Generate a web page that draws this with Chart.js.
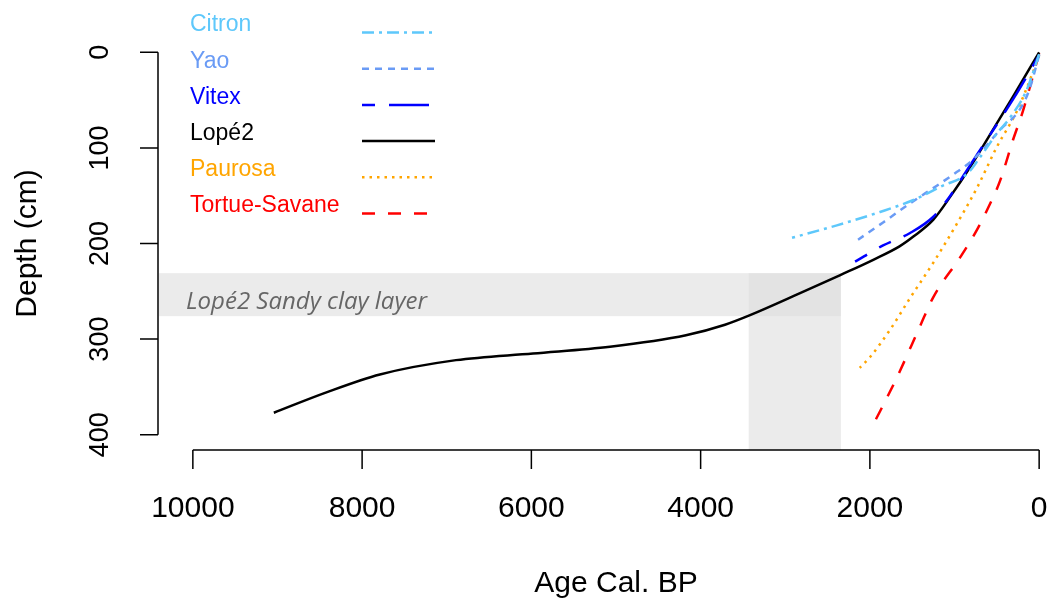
<!DOCTYPE html>
<html lang="en">
<head>
<meta charset="UTF-8">
<title>Age-depth models</title>
<script src="https://cdn.jsdelivr.net/npm/chart.js"></script>
<style>
    body { margin: 0; overflow: hidden; background: #fff; }
    #wrap { width: 1090px; height: 601px; }
</style>
</head>
<body>
<div id="wrap"><canvas id="ageChart" width="1090" height="601"></canvas></div>
<script>
// age (cal. BP) and depth (cm) per core
const lopeAge = [0, 300, 600, 815, 1050, 1250, 1490, 1650, 1960, 2350, 2825, 3416, 3712, 4173, 5071, 5981, 6891, 7790, 8430, 9043];
const lopeDepth = [0, 45, 89, 120, 151, 175, 193, 203, 217, 233, 252, 275, 285, 296, 308, 315, 322, 337, 356, 377];
const vitexAge = [0, 300, 600, 815, 1050, 1250, 1525, 1844, 2175];
const vitexDepth = [3, 48, 89, 118, 150, 172, 189, 202, 219];
const yaoAge = [0, 120, 230, 460, 700, 815, 970, 1200, 1525, 1844, 2140];
const yaoDepth = [3, 40, 60, 81, 105, 115, 125, 139, 158, 178, 196];
const citronAge = [0, 150, 340, 500, 700, 850, 1150, 1500, 1880, 2390, 2920];
const citronDepth = [2, 40, 68, 85, 110, 127, 140, 155, 167, 181, 194];
const paurosaAge = [0, 70, 260, 500, 730, 970, 1250, 1525, 1760, 2000, 2120];
const paurosaDepth = [3, 20, 61, 99, 141, 179, 220, 257, 290, 319, 330];
const tortueAge = [0, 190, 310, 460, 615, 730, 930, 1250, 1410, 1680, 1975];
const tortueDepth = [1, 61, 92, 134, 165, 185, 214, 256, 287, 340, 392];

// shaded sandy clay layer
const bandAge = [3432, 2343];
const bandDepth = [231, 276];

const xTicks = [10000, 8000, 6000, 4000, 2000, 0];
const yTicks = [0, 100, 200, 300, 400];

const series = [
    { name: 'Citron', age: citronAge, depth: citronDepth, color: '#5ec8fb', dash: [12, 5, 3, 5], order: 1 },
    { name: 'Yao', age: yaoAge, depth: yaoDepth, color: '#6a9bf5', dash: [7, 6], order: 2 },
    { name: 'Vitex', age: vitexAge, depth: vitexDepth, color: '#0000ff', dash: [13, 14, 40, 14], order: 3 },
    { name: 'Lopé2', age: lopeAge, depth: lopeDepth, color: '#000000', dash: [], order: 4 },
    { name: 'Paurosa', age: paurosaAge, depth: paurosaDepth, color: '#ffa500', dash: [2.5, 5], order: 5 },
    { name: 'Tortue-Savane', age: tortueAge, depth: tortueDepth, color: '#ff0000', dash: [13, 13], order: 6 }
];

const FONT = '"Liberation Sans", Arial, sans-serif';

const rStyle = {
    id: 'rStyle',
    beforeDatasetsDraw(chart) {
        const { ctx, chartArea, scales: { x, y } } = chart;
        ctx.save();
        ctx.fillStyle = 'rgba(222,222,222,0.6)';
        // horizontal band
        let x0 = chartArea.left, x1 = x.getPixelForValue(bandAge[1]);
        let y0 = y.getPixelForValue(bandDepth[0]), y1 = y.getPixelForValue(bandDepth[1]);
        ctx.fillRect(x0, y0, x1 - x0, y1 - y0);
        // vertical band
        x0 = x.getPixelForValue(bandAge[0]);
        ctx.fillRect(x0, y0, x1 - x0, chartArea.bottom - y0);

        ctx.fillStyle = '#666';
        ctx.font = 'italic 24px "Open Sans", sans-serif';
        ctx.textAlign = 'left';
        ctx.textBaseline = 'alphabetic';
        ctx.fillText('Lopé2 Sandy clay layer', x.getPixelForValue(10080), y.getPixelForValue(268.5));
        ctx.restore();
    },
    afterDraw(chart) {
        const { ctx, chartArea, scales: { x, y } } = chart;
        ctx.save();
        ctx.strokeStyle = '#000';
        ctx.fillStyle = '#000';
        ctx.lineWidth = 1.5;

        // x axis
        const ax = chartArea.bottom;
        ctx.beginPath();
        ctx.moveTo(x.getPixelForValue(xTicks[0]), ax);
        ctx.lineTo(x.getPixelForValue(xTicks[xTicks.length - 1]), ax);
        xTicks.forEach(v => {
            const px = x.getPixelForValue(v);
            ctx.moveTo(px, ax);
            ctx.lineTo(px, ax + 19);
        });
        ctx.stroke();
        ctx.font = '30px ' + FONT;
        ctx.textAlign = 'center';
        ctx.textBaseline = 'middle';
        xTicks.forEach(v => ctx.fillText(String(v), x.getPixelForValue(v), 509));
        ctx.fillText('Age Cal. BP', (chartArea.left + chartArea.right) / 2, 584);

        // y axis
        const ay = chartArea.left - 1;
        ctx.beginPath();
        ctx.moveTo(ay, y.getPixelForValue(yTicks[0]));
        ctx.lineTo(ay, y.getPixelForValue(yTicks[yTicks.length - 1]));
        yTicks.forEach(v => {
            const py = y.getPixelForValue(v);
            ctx.moveTo(ay, py);
            ctx.lineTo(ay - 18, py);
        });
        ctx.stroke();
        ctx.font = '27px ' + FONT;
        yTicks.forEach(v => {
            ctx.save();
            ctx.translate(101, y.getPixelForValue(v));
            ctx.rotate(-Math.PI / 2);
            ctx.fillText(String(v), 0, 0);
            ctx.restore();
        });
        ctx.save();
        ctx.font = '30px ' + FONT;
        ctx.translate(28, (chartArea.top + chartArea.bottom) / 2);
        ctx.rotate(-Math.PI / 2);
        ctx.fillText('Depth (cm)', 0, 0);
        ctx.restore();

        // legend: label on the left, line sample on the right
        ctx.font = '23px ' + FONT;
        ctx.textAlign = 'left';
        series.forEach((s, i) => {
            const ty = 25 + i * 36.2;
            ctx.fillStyle = s.color;
            ctx.fillText(s.name, 190, ty);
            ctx.beginPath();
            ctx.strokeStyle = s.color;
            ctx.lineWidth = 2.5;
            ctx.setLineDash(s.dash);
            ctx.moveTo(362, ty + 7.5);
            ctx.lineTo(435, ty + 7.5);
            ctx.stroke();
        });
        ctx.restore();
    }
};

new Chart(document.getElementById('ageChart'), {
    type: 'scatter',
    data: {
        datasets: series.map(s => ({
            label: s.name,
            data: s.age.map((a, i) => ({ x: a, y: s.depth[i] })),
            showLine: true,
            borderColor: s.color,
            borderWidth: 2.5,
            borderDash: s.dash,
            pointRadius: 0,
            cubicInterpolationMode: 'monotone',
            fill: false,
            order: s.order
        }))
    },
    options: {
        responsive: false,
        animation: false,
        devicePixelRatio: 1,
        layout: { padding: { left: 159, right: 17, top: 37, bottom: 151 } },
        scales: {
            x: { type: 'linear', reverse: true, min: -400, max: 10400, display: false },
            y: { type: 'linear', reverse: true, min: -16, max: 416, display: false }
        },
        plugins: {
            legend: { display: false },
            tooltip: { enabled: false }
        }
    },
    plugins: [rStyle]
});
</script>
</body>
</html>
